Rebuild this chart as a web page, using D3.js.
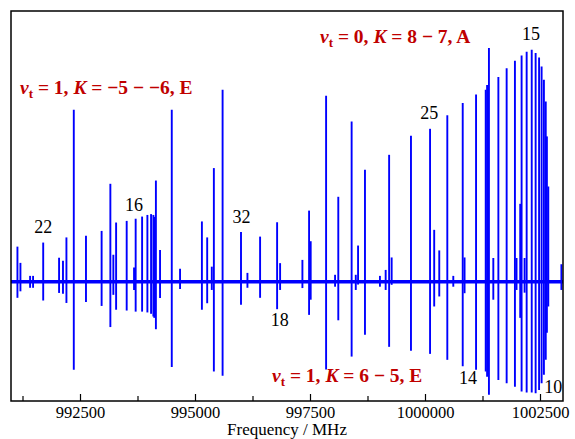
<!DOCTYPE html>
<html>
<head>
<meta charset="utf-8">
<script src="https://cdn.jsdelivr.net/npm/d3@7"></script>
<style>
  body { margin: 0; background: #fff; }
  text { font-family: "Liberation Serif", "Times New Roman", serif; }
</style>
</head>
<body>
<svg width="575" height="439"></svg>
<script>
// line positions (MHz) and intensities, up and down lobes
var freqs = [991140, 991205, 991415, 991480, 991700, 992045, 992130, 992205, 992365, 992630,
  992970, 993160, 993225, 993285, 993515, 993675, 993710, 993850, 993965, 994045,
  994095, 994115, 994150, 994240, 994495, 994675, 995150, 995265, 995365, 995410,
  995600, 996000, 996140, 996415, 996785, 996850, 997335, 997480, 997515, 997850,
  998045, 998115, 998405, 998495, 998545, 998695, 999020, 999145, 999220, 999275,
  999695, 1000110, 1000200, 1000310, 1000485, 1000615, 1000820, 1000860, 1001110, 1001320,
  1001350, 1001390, 1001485, 1001595, 1001775, 1001955, 1001990, 1002070, 1002100, 1002165,
  1002210, 1002320, 1002405, 1002480, 1002535, 1002585, 1002625, 1002650, 1002680, 1002965];
var upInt = [0.130, 0.070, 0.022, 0.022, 0.145, 0.089, 0.078, 0.164, 0.635, 0.170,
  0.188, 0.362, 0.100, 0.219, 0.225, 0.053, 0.233, 0.241, 0.247, 0.250,
  0.247, 0.240, 0.374, 0.118, 0.635, 0.048, 0.223, 0.164, 0.056, 0.420,
  0.709, 0.184, 0.033, 0.167, 0.220, 0.069, 0.081, 0.263, 0.150, 0.687,
  0.026, 0.314, 0.592, 0.026, 0.134, 0.414, 0.022, 0.044, 0.469, 0.090,
  0.539, 0.565, 0.192, 0.116, 0.615, 0.022, 0.660, 0.090, 0.692, 0.709,
  0.727, 0.863, 0.088, 0.756, 0.789, 0.816, 0.088, 0.288, 0.836, 0.088,
  0.850, 0.857, 0.845, 0.828, 0.795, 0.746, 0.666, 0.537, 0.352, 0.065];
var downInt = [-0.059, -0.035, -0.022, -0.022, -0.069, -0.041, -0.044, -0.078, -0.325, -0.074,
  -0.089, -0.167, -0.048, -0.103, -0.106, -0.030, -0.110, -0.110, -0.113, -0.118,
  -0.128, -0.133, -0.175, -0.060, -0.314, -0.026, -0.103, -0.079, -0.030, -0.331,
  -0.347, -0.085, -0.022, -0.059, -0.101, -0.030, -0.023, -0.122, -0.066, -0.324,
  -0.018, -0.142, -0.276, -0.030, -0.010, -0.195, -0.018, -0.030, -0.240, -0.011,
  -0.254, -0.266, -0.091, -0.054, -0.288, -0.018, -0.312, -0.042, -0.325, -0.331,
  -0.350, -0.417, -0.066, -0.362, -0.374, -0.387, -0.030, -0.133, -0.405, -0.040,
  -0.409, -0.409, -0.411, -0.399, -0.374, -0.343, -0.288, -0.188, -0.091, -0.030];

var majorTicks = [992500, 995000, 997500, 1000000, 1002500];
var minorTicks = [991250, 993750, 996250, 998750, 1001250];

// quantum number labels: [freq, intensity, text]
var numLabels = [
  [991700, 0.182, "22"], [993675, 0.262, "16"], [996010, 0.218, "32"], [996845, -0.163, "18"],
  [1000095, 0.600, "25"], [1002305, 0.893, "15"], [1000935, -0.377, "14"], [1002790, -0.410, "10"]
];

var svg = d3.select('svg');
var padL = 11, padT = 11, padR = 563, padB = 401;

var scaleX = d3.scaleLinear().domain([991000, 1003000]).range([padL, padR]);
var scaleY = d3.scaleLinear().domain([-0.44, 1.0]).range([padB, padT]);

var lines = freqs.map(function(f, i) {
  return {f: f, up: upInt[i], down: downInt[i]};
});

svg.append('clipPath').attr('id', 'clip')
  .append('rect').attr('x', padL).attr('y', padT)
  .attr('width', padR - padL).attr('height', padB - padT);

var plot = svg.append('g').attr('clip-path', 'url(#clip)');

// noisy baseline
plot.append('line')
  .attr('x1', padL).attr('x2', padR)
  .attr('y1', scaleY(0)).attr('y2', scaleY(0))
  .attr('stroke', '#0000ff')
  .attr('stroke-width', 3.5);

plot.selectAll('.stick')
  .data(lines)
  .enter()
  .append('line')
  .attr('class', 'stick')
  .attr('x1', function(d){ return scaleX(d.f); })
  .attr('x2', function(d){ return scaleX(d.f); })
  .attr('y1', function(d){ return scaleY(d.up); })
  .attr('y2', function(d){ return scaleY(d.down); })
  .attr('stroke', '#0000ff')
  .attr('stroke-width', 1.9);

// x axis, ticks pointing inward
var axisMinor = svg.append('g')
  .attr('transform', 'translate(0,' + padB + ')')
  .call(d3.axisBottom(scaleX).tickValues(minorTicks).tickSizeInner(-5).tickSizeOuter(0).tickFormat(''));
axisMinor.select('.domain').remove();

var axisMajor = svg.append('g')
  .attr('transform', 'translate(0,' + padB + ')')
  .call(d3.axisBottom(scaleX).tickValues(majorTicks).tickSizeInner(-7).tickSizeOuter(0)
    .tickPadding(5).tickFormat(d3.format('d')));
axisMajor.select('.domain').remove();
svg.selectAll('.tick line').attr('stroke', '#000').attr('stroke-width', 1.2);
axisMajor.selectAll('text')
  .attr('fill', '#000')
  .style('font-size', '16.5px')
  .style('font-family', '"Liberation Serif", "Times New Roman", serif');

svg.append('rect')
  .attr('x', padL).attr('y', padT)
  .attr('width', padR - padL).attr('height', padB - padT)
  .attr('fill', 'none')
  .attr('stroke', '#000')
  .attr('stroke-width', 1.5);

svg.append('text')
  .attr('x', (padL + padR) / 2)
  .attr('y', 435)
  .attr('text-anchor', 'middle')
  .style('font-size', '17px')
  .text('Frequency / MHz');

svg.selectAll('.num')
  .data(numLabels)
  .enter()
  .append('text')
  .attr('class', 'num')
  .attr('x', function(d){ return scaleX(d[0]); })
  .attr('y', function(d){ return scaleY(d[1]); })
  .attr('text-anchor', 'middle')
  .style('font-size', '18px')
  .text(function(d){ return d[2]; });

// red state labels
function stateLabel(x, y, vt, kText, sym) {
  var t = svg.append('text')
    .attr('x', x).attr('y', y)
    .attr('fill', '#c00000')
    .style('font-size', '19.5px')
    .style('font-weight', 'bold');
  t.append('tspan').style('font-style', 'italic').text('\u03bd');
  t.append('tspan').attr('dy', 4).style('font-size', '13px').text('t');
  t.append('tspan').attr('dy', -4).text(' = ' + vt + ', ');
  t.append('tspan').style('font-style', 'italic').text('K');
  t.append('tspan').text(' = ' + kText + ', ' + sym);
}

stateLabel(20, 94, '1', '\u22125 \u2212 \u22126', 'E');
stateLabel(320, 43, '0', '8 \u2212 7', 'A');
stateLabel(272, 382, '1', '6 \u2212 5', 'E');
</script>
</body>
</html>
